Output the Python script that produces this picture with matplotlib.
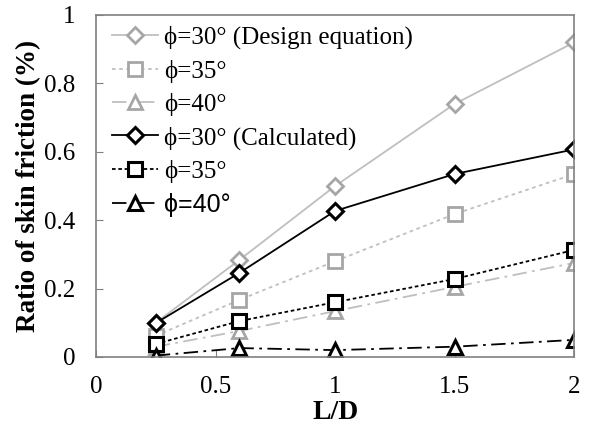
import matplotlib
matplotlib.use("Agg")
import matplotlib.pyplot as plt

x = [0.25, 0.6, 1.0, 1.5, 2.0]
design_30 = [0.10, 0.284, 0.50, 0.74, 0.92]
design_35 = [0.062, 0.167, 0.28, 0.418, 0.535]
design_40 = [0.03, 0.076, 0.134, 0.205, 0.275]
calc_30 = [0.099, 0.246, 0.427, 0.535, 0.607]
calc_35 = [0.038, 0.105, 0.16, 0.228, 0.313]
calc_40 = [0.004, 0.026, 0.02, 0.03, 0.05]
labels = ["ϕ=30° (Design equation)", "ϕ=35°", "ϕ=40°",
          "ϕ=30° (Calculated)", "ϕ=35°", "ϕ=40°"]
xticks = [0, 0.5, 1, 1.5, 2]
xticklabels = ['0', '0.5', '1', '1.5', '2']
yticks = [0, 0.2, 0.4, 0.6, 0.8, 1]
yticklabels = ['0', '0.2', '0.4', '0.6', '0.8', '1']

plt.rcParams['font.family'] = ['Liberation Serif', 'DejaVu Serif']

fig = plt.figure(figsize=(5.89, 4.28), dpi=100)
ax = fig.add_axes([0.163, 0.166, 0.812, 0.799])

lg = '#bfbfbf'
mg = '#a6a6a6'
ax.plot(x, design_30, color=lg, lw=1.3, ls='-', marker='D', ms=8.5, mfc='white',
        mec=mg, mew=2.0, label=labels[0])
ax.plot(x, design_35, color=lg, lw=1.3, ls=(0, (2, 2)), marker='s', ms=9.5, mfc='white',
        mec=mg, mew=2.0, label=labels[1])
ax.plot(x, design_40, color=lg, lw=1.3, ls=(0, (8, 3, 1.5, 3)), marker='^', ms=10, mfc='white',
        mec=mg, mew=2.0, label=labels[2])
ax.plot(x, calc_30, color='black', lw=1.3, ls='-', marker='D', ms=8.5, mfc='white',
        mec='black', mew=2.2, label=labels[3])
ax.plot(x, calc_35, color='black', lw=1.3, ls=(0, (2, 1.5)), marker='s', ms=9.5, mfc='white',
        mec='black', mew=2.2, label=labels[4])
ax.plot(x, calc_40, color='black', lw=1.3, ls=(0, (8, 3, 1.5, 3)), marker='^', ms=10, mfc='white',
        mec='black', mew=2.2, label=labels[5])

ax.set_xlim(0, 2)
ax.set_ylim(0, 1)
ax.set_xticks(xticks)
ax.set_xticklabels(xticklabels)
ax.set_yticks(yticks)
ax.set_yticklabels(yticklabels)
ax.tick_params(direction='in', length=5, color='#808080', labelsize=18, pad=15)
ax.tick_params(axis='x', pad=14)
for s in ax.spines.values():
    s.set_color('#808080')
    s.set_linewidth(1.2)

ax.set_xlabel('L/D', fontsize=20, fontweight='bold', labelpad=1)
ax.set_ylabel('Ratio of skin friction (%)', fontsize=19.5, fontweight='bold', labelpad=2)

leg = ax.legend(loc='upper left', bbox_to_anchor=(0.033, 0.968), frameon=False, fontsize=18,
                handlelength=1.85, labelspacing=0.41, borderaxespad=0, borderpad=0,
                handletextpad=0.25)
leg.get_texts()[5].set_family(['Liberation Sans', 'DejaVu Sans'])

fig.savefig('out.png', dpi=100)
